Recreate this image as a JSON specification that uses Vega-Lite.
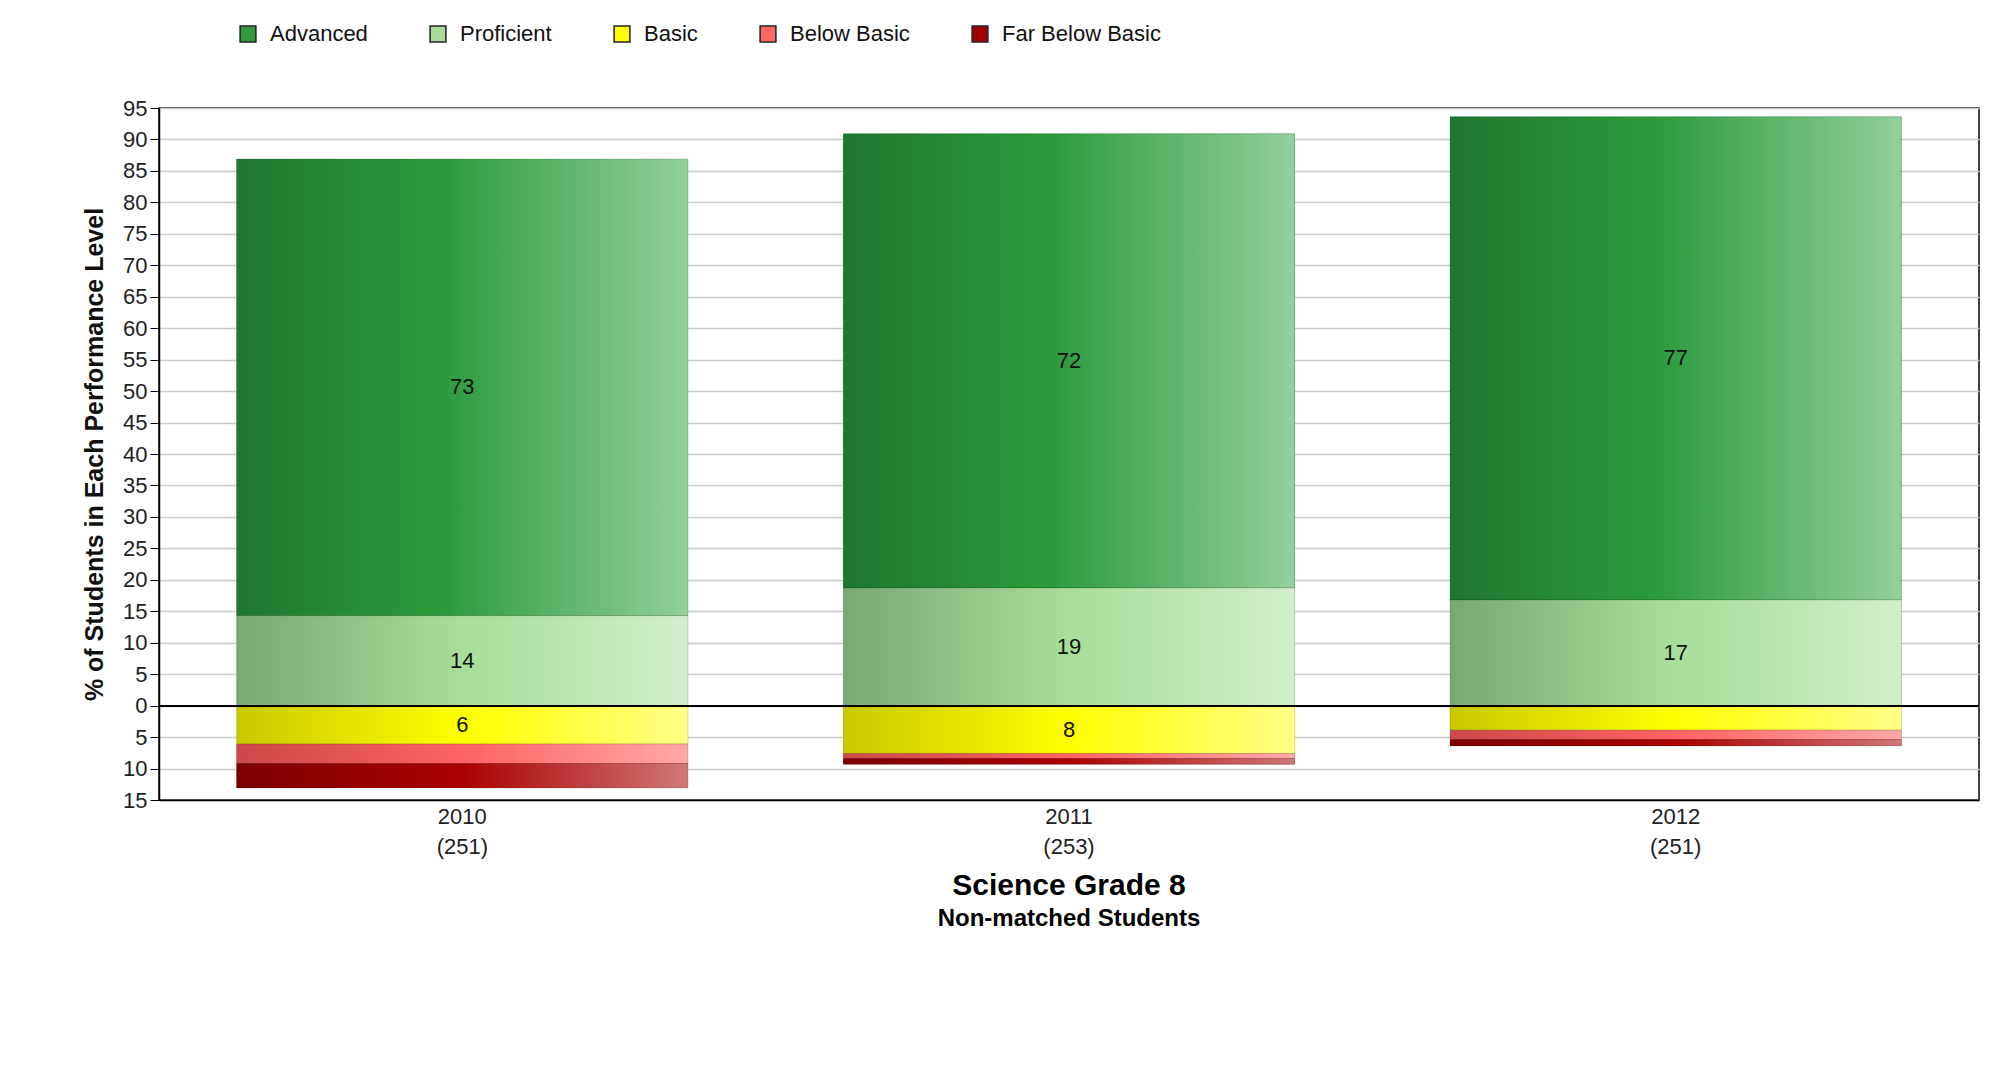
{
  "$schema": "https://vega.github.io/schema/vega-lite/v6.json",
  "width": 1820,
  "height": 692,
  "autosize": "none",
  "padding": {"left": 159, "top": 108, "right": 36, "bottom": 269},
  "background": "white",
  "config": {
    "font": "Liberation Sans",
    "view": {"stroke": "#000", "strokeWidth": 1.5}
  },
  "title": {
    "text": "Science Grade 8",
    "subtitle": "Non-matched Students",
    "orient": "bottom",
    "anchor": "middle",
    "frame": "group",
    "offset": 14,
    "fontSize": 30,
    "fontWeight": "bold",
    "color": "#000",
    "subtitleFontSize": 24,
    "subtitleFontWeight": "bold",
    "subtitleColor": "#000",
    "subtitlePadding": 6
  },
  "data": {
    "values": [
      {"group": "2010 (251)", "level": "Advanced", "pct": 72.6},
      {"group": "2010 (251)", "level": "Proficient", "pct": 14.3},
      {"group": "2010 (251)", "level": "Basic", "pct": -6.1},
      {"group": "2010 (251)", "level": "Below Basic", "pct": -3.1},
      {"group": "2010 (251)", "level": "Far Below Basic", "pct": -3.9},
      {"group": "2011 (253)", "level": "Advanced", "pct": 72.2},
      {"group": "2011 (253)", "level": "Proficient", "pct": 18.7},
      {"group": "2011 (253)", "level": "Basic", "pct": -7.6},
      {"group": "2011 (253)", "level": "Below Basic", "pct": -0.8},
      {"group": "2011 (253)", "level": "Far Below Basic", "pct": -0.9},
      {"group": "2012 (251)", "level": "Advanced", "pct": 76.8},
      {"group": "2012 (251)", "level": "Proficient", "pct": 16.8},
      {"group": "2012 (251)", "level": "Basic", "pct": -3.9},
      {"group": "2012 (251)", "level": "Below Basic", "pct": -1.5},
      {"group": "2012 (251)", "level": "Far Below Basic", "pct": -1.0}
    ]
  },
  "transform": [
    {"calculate": "indexof(['Proficient','Advanced','Basic','Below Basic','Far Below Basic'], datum.level)", "as": "ord"},
    {"stack": "pct", "groupby": ["group"], "sort": [{"field": "ord", "order": "ascending"}], "as": ["y0", "y1"]},
    {"calculate": "(datum.y0 + datum.y1) / 2", "as": "mid"},
    {"calculate": "format(abs(datum.pct), '.0f')", "as": "lbl"}
  ],
  "layer": [
    {
      "mark": {"type": "bar"},
      "encoding": {
        "x": {
          "field": "group",
          "type": "nominal",
          "sort": null,
          "scale": {"paddingInner": 0.256, "paddingOuter": 0.128},
          "axis": {
            "title": null,
            "labelAngle": 0,
            "labelExpr": "split(datum.label, ' ')",
            "labelFontSize": 22,
            "labelLineHeight": 30,
            "labelColor": "#222",
            "labelPadding": 6,
            "ticks": false,
            "domainColor": "#000",
            "domainWidth": 1.5
          }
        },
        "y": {
          "field": "y0",
          "type": "quantitative",
          "scale": {"domain": [-15, 95], "nice": false, "zero": false},
          "axis": {
            "title": "% of Students in Each Performance Level",
            "titleFontSize": 25,
            "titleFontWeight": "bold",
            "titleColor": "#111",
            "titlePadding": 15,
            "values": [-15, -10, -5, 0, 5, 10, 15, 20, 25, 30, 35, 40, 45, 50, 55, 60, 65, 70, 75, 80, 85, 90, 95],
            "tickCount": 40,
            "labelExpr": "format(abs(datum.value), 'd')",
            "labelOverlap": false,
            "labelFontSize": 22,
            "labelColor": "#222",
            "labelPadding": 3,
            "tickSize": 9,
            "tickColor": "#000",
            "domainColor": "#000",
            "domainWidth": 1.5,
            "gridColor": "#cccccc",
            "gridWidth": 1.5
          }
        },
        "y2": {"field": "y1"},
        "color": {
          "field": "level",
          "type": "nominal",
          "scale": {
            "domain": ["Advanced", "Proficient", "Basic", "Below Basic", "Far Below Basic"],
            "range": ["#2e9a3c", "#a6dc98", "#ffff00", "#ff6666", "#a00000"]
          },
          "legend": {
            "title": null,
            "orient": "none",
            "direction": "horizontal",
            "legendX": 78,
            "legendY": -85,
            "symbolType": "square",
            "symbolSize": 250,
            "symbolStrokeColor": "#222",
            "symbolStrokeWidth": 1.5,
            "labelFontSize": 22,
            "labelColor": "#111",
            "labelOffset": 11,
            "columnPadding": 59
          }
        }
      }
    },
    {
      "mark": {"type": "bar", "stroke": "#000", "strokeOpacity": 0.15, "strokeWidth": 1},
      "encoding": {
        "x": {"field": "group", "type": "nominal", "sort": null},
        "y": {"field": "y0", "type": "quantitative"},
        "y2": {"field": "y1"},
        "fill": {
          "condition": [
            {"test": "datum.level === 'Advanced'", "value": {"gradient": "linear", "x1": 0, "y1": 0, "x2": 1, "y2": 0, "stops": [{"offset": 0, "color": "#1f772f"}, {"offset": 0.45, "color": "#2a9a3a"}, {"offset": 1, "color": "#92d09c"}]}},
            {"test": "datum.level === 'Proficient'", "value": {"gradient": "linear", "x1": 0, "y1": 0, "x2": 1, "y2": 0, "stops": [{"offset": 0, "color": "#7aa874"}, {"offset": 0.5, "color": "#a8de98"}, {"offset": 1, "color": "#d2eecc"}]}},
            {"test": "datum.level === 'Basic'", "value": {"gradient": "linear", "x1": 0, "y1": 0, "x2": 1, "y2": 0, "stops": [{"offset": 0, "color": "#c8c800"}, {"offset": 0.5, "color": "#ffff00"}, {"offset": 1, "color": "#ffff88"}]}},
            {"test": "datum.level === 'Below Basic'", "value": {"gradient": "linear", "x1": 0, "y1": 0, "x2": 1, "y2": 0, "stops": [{"offset": 0, "color": "#cc4848"}, {"offset": 0.5, "color": "#ff6262"}, {"offset": 1, "color": "#ffa8a8"}]}}
          ],
          "value": {"gradient": "linear", "x1": 0, "y1": 0, "x2": 1, "y2": 0, "stops": [{"offset": 0, "color": "#7c0000"}, {"offset": 0.5, "color": "#ac0000"}, {"offset": 1, "color": "#d07878"}]}
        }
      }
    },
    {
      "mark": {"type": "rule", "color": "#000", "strokeWidth": 1.5},
      "encoding": {"y": {"datum": 0, "type": "quantitative"}}
    },
    {
      "transform": [{"filter": "abs(datum.pct) >= 5"}],
      "mark": {"type": "text", "fontSize": 22, "color": "#111", "baseline": "middle"},
      "encoding": {
        "x": {"field": "group", "type": "nominal", "sort": null},
        "y": {"field": "mid", "type": "quantitative"},
        "text": {"field": "lbl", "type": "nominal"}
      }
    }
  ]
}
